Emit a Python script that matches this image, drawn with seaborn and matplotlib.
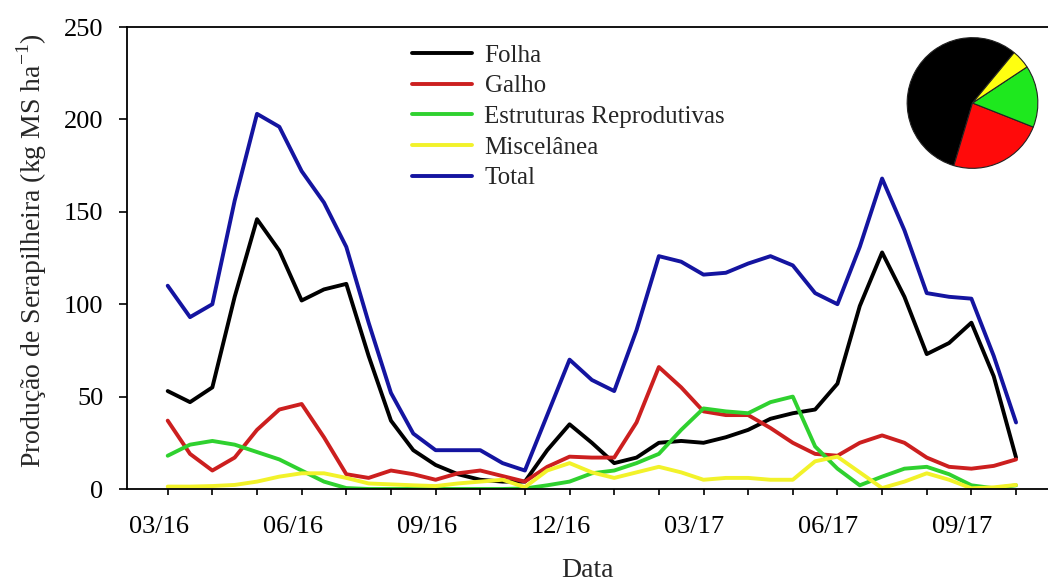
import numpy as np
import pandas as pd
import matplotlib
matplotlib.use("Agg")
import matplotlib.pyplot as plt
import matplotlib.transforms as mtransforms
import seaborn as sns

# ---- data (half-month resolution) ----
month_pos = [i * 0.5 for i in range(39)]  # 0 = 03/16 ... 19 = 10/17

folha = [53, 47, 55, 104, 146, 129, 102, 108, 111, 72, 37, 21, 13, 8, 5, 4, 4, 21, 35, 25,
         14, 17, 25, 26, 25, 28, 32, 38, 41, 43, 57, 99, 128, 104, 73, 79, 90, 61, 17]
galho = [37, 19, 10, 17, 32, 43, 46, 28, 8, 6, 10, 8, 5, 8.5, 10, 7, 4, 12, 17.5, 17,
         17, 36, 66, 55, 42, 40, 40, 33, 25, 19, 18, 25, 29, 25, 17, 12, 11, 12.5, 16]
estruturas = [18, 24, 26, 24, 20, 16, 10, 4, 0.5, 0, 0, 0, 0, 0, 0, 0, 0.3, 2, 4, 8.5,
              10, 14, 19, 32, 43.6, 42, 41, 47, 50, 23, 11, 2, 6.7, 11, 12, 8, 2, 0.4, 2]
misc = [1.3, 1.3, 1.6, 2.2, 4, 6.7, 8.5, 8.5, 6, 3, 2.5, 2, 1.6, 3, 4, 5, 1, 10, 14, 9,
        6, 9, 12, 9, 5, 6, 6, 5, 5, 15, 17.5, 9, 0.5, 4, 8.5, 5, 0.4, 0.9, 2.2]
total = [110, 93, 100, 156, 203, 196, 172, 155, 131, 90, 52, 30, 21, 21, 21, 14, 10, 40, 70, 59,
         53, 86, 126, 123, 116, 117, 122, 126, 121, 106, 100, 131, 168, 140, 106, 104, 103, 72, 36]

series_names = ["Folha", "Galho", "Estruturas Reprodutivas", "Miscelânea", "Total"]
series_values = [folha, galho, estruturas, misc, total]
line_colors = ["#000000", "#cc1f1f", "#2fd12f", "#f2f22a", "#1414a0"]

tick_months = [0, 3, 6, 9, 12, 15, 18]
tick_labels = ["03/16", "06/16", "09/16", "12/16", "03/17", "06/17", "09/17"]

pie_labels = ["Folha", "Galho", "Estruturas Reprodutivas", "Miscelânea"]
pie_share = [56.4, 23.6, 15.3, 4.7]
pie_colors = ["#000000", "#ff0a0a", "#1ee81e", "#ffff10"]

# ---- figure ----
sns.set_style("ticks")
plt.rcParams["font.family"] = ["Liberation Serif", "DejaVu Serif"]
plt.rcParams["mathtext.fontset"] = "custom"
plt.rcParams["mathtext.rm"] = "Liberation Serif"

W, H = 1048, 588
fig = plt.figure(figsize=(W / 100, H / 100), dpi=100)
x0, x1, yb, yt = 127, 1048, 489, 27
ax = fig.add_axes([x0 / W, (H - yb) / H, (x1 - x0) / W, (yb - yt) / H])

df = pd.DataFrame({
    "mes": month_pos * len(series_names),
    "valor": sum(series_values, []),
    "comp": sum([[n] * len(month_pos) for n in series_names], []),
})
sns.lineplot(data=df, x="mes", y="valor", hue="comp", hue_order=series_names,
             palette=dict(zip(series_names, line_colors)), estimator=None, sort=False,
             linewidth=2.8, ax=ax, legend=True, solid_joinstyle="round",
             solid_capstyle="round")

px_per_month = 44.65
ax.set_xlim(-(167.7 - x0) / px_per_month, (x1 - 167.7) / px_per_month)
ax.set_ylim(0, 250)
ax.set_yticks([0, 50, 100, 150, 200, 250])
ax.set_xticks(range(0, 20))
ax.set_xticklabels([tick_labels[tick_months.index(m)] if m in tick_months else "" for m in range(20)])

ax.spines["right"].set_visible(False)
for s in ["left", "bottom", "top"]:
    ax.spines[s].set_linewidth(1.3)
    ax.spines[s].set_color("black")

ax.tick_params(axis="y", direction="out", length=6, width=1.2, pad=11, labelsize=19, colors="black")
ax.tick_params(axis="x", direction="out", length=4.5, width=1.2, pad=15, labelsize=19, colors="black")
off = mtransforms.ScaledTranslation(-9 / 100, 0, fig.dpi_scale_trans)
for lab in ax.get_xticklabels():
    lab.set_transform(lab.get_transform() + off)

ax.set_xlabel("Data", fontsize=20, labelpad=14)
ax.set_ylabel(r"Produção de Serapilheira (kg MS ha$^{\mathregular{-1}}$)", fontsize=20)
ax.yaxis.set_label_coords((49 - x0) / (x1 - x0), (yb - 251) / (yb - yt))

handles, labels = ax.get_legend_handles_labels()
ax.legend(handles, labels, loc="upper left", bbox_to_anchor=(412 / W, (H - 44) / H),
          bbox_transform=fig.transFigure, frameon=False, fontsize=18, handlelength=2.4,
          handletextpad=0.5, labelspacing=0.33, borderpad=0, borderaxespad=0)

# ---- pie inset ----
cx, cy, r = 972.5, 103, 66
pax = fig.add_axes([(cx - r) / W, (H - cy - r) / H, 2 * r / W, 2 * r / H])
pax.pie(pie_share, colors=pie_colors, startangle=50.4, counterclock=True, radius=1,
        wedgeprops=dict(edgecolor="#222222", linewidth=0.8))
pax.set_xlim(-1.01, 1.01)
pax.set_ylim(-1.01, 1.01)
pax.set_aspect("equal")

fig.savefig("out.png", dpi=100)
